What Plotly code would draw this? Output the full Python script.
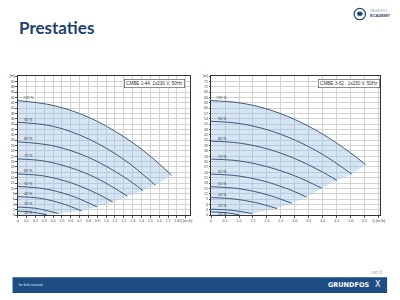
import plotly.graph_objects as go

# ---------------- data: left chart (CMBE 1-44) ----------------
speeds = ["100 %", "90 %", "80 %", "70 %", "60 %", "50 %", "40 %", "30 %", "20 %"]

left_q = [
    [0, 0.4, 0.8, 1.2, 1.5, 1.74],
    [0, 0.4, 0.8, 1.2, 1.557],
    [0, 0.4, 0.8, 1.2, 1.416],
    [0, 0.3, 0.6, 0.9, 1.241],
    [0, 0.3, 0.6, 0.9, 1.074],
    [0, 0.3, 0.6, 0.896],
    [0, 0.25, 0.5, 0.721],
    [0, 0.2, 0.461],
    [0, 0.15, 0.331],
]
left_h = [
    [42.8, 41.0, 36.6, 29.3, 22.0, 14.9],
    [34.7, 33.2, 28.5, 20.8, 11.2],
    [27.4, 25.9, 21.6, 14.3, 9.2],
    [21.0, 20.2, 17.7, 13.7, 7.1],
    [15.4, 14.6, 12.1, 8.0, 4.9],
    [10.7, 9.85, 7.3, 3.1],
    [6.9, 6.3, 4.35, 1.6],
    [3.0, 2.55, 0.6],
    [1.5, 1.2, 0.1],
]
left_xticks = [round(i * 0.1, 1) for i in range(20)]
left_xtext = ["0"] + [f"{v:.1f}" for v in left_xticks[1:-1]] + ["Q [m³/h]"]
left_yticks = list(range(0, 54, 2))
left_ytext = [str(v) for v in left_yticks[:-1]] + ["[m]"]
left_title = "CMBE 1-44, 1x230 V, 50Hz"

# ---------------- data: right chart (CMBE 3-62) ----------------
right_q = [
    [0, 1, 2, 3, 4, 5, 5.54],
    [0, 1, 2, 3, 4, 5.04],
    [0, 1, 2, 3, 4, 4.5],
    [0, 1, 2, 3, 3.96],
    [0, 1, 2, 3, 3.42],
    [0, 1, 2, 2.89],
    [0, 0.8, 1.6, 2.36],
    [0, 0.7, 1.47],
    [0, 0.5, 1.0],
]
right_h = [
    [64.2, 63.0, 59.5, 53.6, 45.4, 34.9, 28.2],
    [52.6, 51.4, 47.9, 42.1, 34.0, 23.0],
    [41.5, 40.4, 37.2, 31.7, 24.1, 19.5],
    [31.4, 30.4, 27.2, 22.0, 15.1],
    [23.0, 21.9, 18.6, 13.1, 10.1],
    [15.9, 14.8, 11.5, 6.6],
    [9.8, 9.1, 7.0, 3.7],
    [3.3, 2.75, 0.9],
    [1.8, 1.4, 0.2],
]
right_xticks = [i * 0.5 for i in range(13)]
right_xtext = ["0"] + [f"{v:.1f}" for v in right_xticks[1:-1]] + ["Q [m³/h]"]
right_yticks = list(range(0, 81, 3))
right_ytext = [str(v) for v in right_yticks[:-1]] + ["[m]"]
right_title = "CMBE 3-62 , 1x230 V, 50Hz"

LINE = "#3d5a7c"
FILL = "rgba(150,190,228,0.40)"
GRID = "#d2d2d2"

fig = go.Figure()


def add_chart(qs, hs, xa, ya):
    # shaded operating range
    fx = list(qs[0]) + [c[-1] for c in qs[1:]] + [qs[-1][-1], 0, 0]
    fy = list(hs[0]) + [c[-1] for c in hs[1:]] + [0, 0, hs[0][0]]
    fig.add_trace(go.Scatter(x=fx, y=fy, mode="lines", fill="toself",
                             fillcolor=FILL, line=dict(width=0),
                             xaxis=xa, yaxis=ya, hoverinfo="skip",
                             showlegend=False))
    for q, h in zip(qs, hs):
        fig.add_trace(go.Scatter(x=q, y=h, mode="lines",
                                 line=dict(color=LINE, width=1, shape="spline"),
                                 xaxis=xa, yaxis=ya, showlegend=False))


add_chart(left_q, left_h, "x", "y")
add_chart(right_q, right_h, "x2", "y2")

annotations = []
shifts = [3, 3, 3, 3, 3, 3, 3, 3.5, -1.5]
for lbl, h, s in zip(speeds, left_h, shifts):
    annotations.append(dict(x=0.12, y=h[0], xref="x", yref="y", text=lbl,
                            showarrow=False, yshift=s,
                            font=dict(size=3.8, color="#333")))
for lbl, h, s in zip(speeds, right_h, shifts):
    annotations.append(dict(x=0.38, y=h[0], xref="x2", yref="y2", text=lbl,
                            showarrow=False, yshift=s,
                            font=dict(size=3.8, color="#333")))

# chart legend boxes
annotations.append(dict(x=0.97, y=0.975, xref="x domain", yref="y domain",
                        xanchor="right", yanchor="top", text=left_title,
                        showarrow=False, bordercolor="#444", borderwidth=0.6,
                        bgcolor="white", borderpad=1.5,
                        font=dict(size=4.6, color="#333", family="Arial")))
annotations.append(dict(x=1.0, y=0.98, xref="x2 domain", yref="y2 domain",
                        xanchor="right", yanchor="top", text=right_title,
                        showarrow=False, bordercolor="#444", borderwidth=0.6,
                        bgcolor="white", borderpad=1.5,
                        font=dict(size=4.6, color="#333", family="Arial")))

# slide title and decorations
annotations += [
    dict(x=16 / 400, y=1 - 26 / 300, xref="paper", yref="paper", xanchor="left",
         yanchor="middle", text="<b>Prestaties</b>", showarrow=False,
         font=dict(size=17, color="#1c416f", family="Lato")),
    dict(x=373 / 400, y=1 - 9 / 300, xref="paper", yref="paper", xanchor="left",
         yanchor="middle", text="GRUNDFOS", showarrow=False,
         font=dict(size=3, color="#8a9bb0", family="Arial")),
    dict(x=373 / 400, y=1 - 14 / 300, xref="paper", yref="paper", xanchor="left",
         yanchor="middle", text="<b>ECADEMY</b>", showarrow=False,
         font=dict(size=4, color="#1c416f", family="Arial")),
    dict(x=390 / 400, y=1 - 274 / 300, xref="paper", yref="paper", xanchor="right",
         yanchor="middle", text="van 8", showarrow=False,
         font=dict(size=4.5, color="#b0b0b0", family="Arial")),
    dict(x=16 / 400, y=1 - 287 / 300, xref="paper", yref="paper", xanchor="left",
         yanchor="middle", text="be think innovate", showarrow=False,
         font=dict(size=3.2, color="#dbe4ef", family="Arial")),
    dict(x=376 / 400, y=1 - 287 / 300, xref="paper", yref="paper", xanchor="right",
         yanchor="middle", text="<b>GRUNDFOS</b>", showarrow=False,
         font=dict(size=6.5, color="white", family="DejaVu Sans")),
    dict(x=378 / 400, y=1 - 286 / 300, xref="paper", yref="paper", xanchor="left",
         yanchor="middle", text="X", showarrow=False,
         font=dict(size=8, color="white", family="DejaVu Sans")),
]

shapes = [
    dict(type="rect", xref="paper", yref="paper", x0=11.7 / 400, x1=392 / 400,
         y0=1 - 295 / 300, y1=1 - 279 / 300, fillcolor="#1d4d82", line=dict(width=0),
         layer="below"),
    dict(type="circle", xref="paper", yref="paper", x0=358.5 / 400, x1=370 / 400,
         y0=1 - 18 / 300, y1=1 - 6.5 / 300, line=dict(color="#1c416f", width=1.2)),
    dict(type="circle", xref="paper", yref="paper", x0=361.5 / 400, x1=367 / 400,
         y0=1 - 14 / 300, y1=1 - 10 / 300, fillcolor="#1c416f",
         line=dict(color="#1c416f", width=0.5)),
]

axis_common = dict(showline=True, mirror=True, linecolor="#333", linewidth=0.8,
                   showgrid=True, gridcolor=GRID, gridwidth=0.5, zeroline=False,
                   ticks="outside", ticklen=1.5, tickcolor="#555",
                   tickfont=dict(size=3.6, color="#444", family="Arial"))

fig.update_layout(
    width=400, height=300, margin=dict(l=0, r=0, t=0, b=0),
    paper_bgcolor="white", plot_bgcolor="white", showlegend=False,
    xaxis=dict(domain=[17 / 400, 192 / 400], range=[0, 1.95], tickmode="array",
               tickvals=left_xticks, ticktext=left_xtext, anchor="y", tickangle=0,
               **axis_common),
    yaxis=dict(domain=[1 - 216 / 300, 1 - 75 / 300], range=[0, 52], tickmode="array",
               tickvals=left_yticks, ticktext=left_ytext, anchor="x", **axis_common),
    xaxis2=dict(domain=[213.3 / 400, 385 / 400], range=[0, 6.06], tickmode="array",
                tickvals=right_xticks, ticktext=right_xtext, anchor="y2", tickangle=0,
                **axis_common),
    yaxis2=dict(domain=[1 - 216 / 300, 1 - 75 / 300], range=[0, 78], tickmode="array",
                tickvals=right_yticks, ticktext=right_ytext, anchor="x2", **axis_common),
    annotations=annotations, shapes=shapes,
)

fig.write_html("out.html")
